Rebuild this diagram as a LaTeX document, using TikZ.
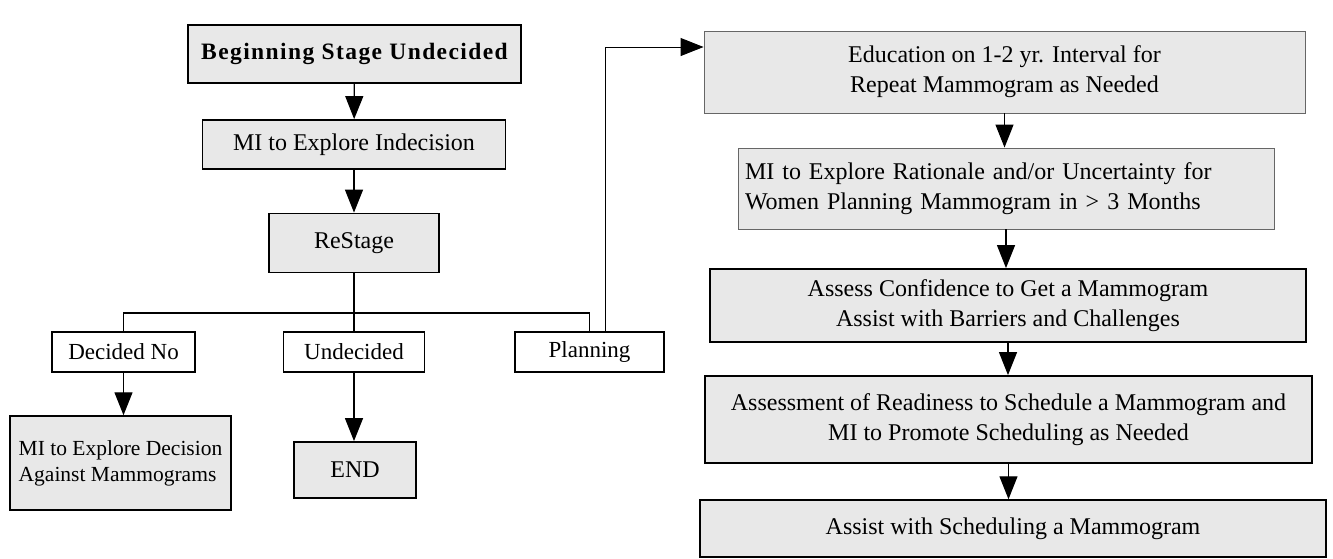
\documentclass[tikz,border=0pt]{standalone}
\usepackage{fontspec}
\setmainfont{Liberation Serif}
\usetikzlibrary{arrows.meta}
\tikzset{
  stagebox/.style={draw, line width=1.8pt, fill=black!9, align=center, inner sep=0pt,
    font=\fontsize{24}{30}\selectfont},
  answerbox/.style={stagebox, fill=white, line width=1.5pt, font=\fontsize{23}{30}\selectfont},
  softbox/.style={stagebox, draw=black!60, line width=0.9pt},
  flow/.style={line width=1.2pt, -{Triangle[length=23pt,width=18pt]}},
  branch/.style={line width=1.5pt}
}
\begin{document}
\begin{tikzpicture}[x=1pt,y=-1pt]
  \useasboundingbox (0,0) rectangle (1333,558);

  % left column
  \node[stagebox, minimum width=333pt, minimum height=58pt,
        font=\fontsize{23.5}{30}\selectfont\bfseries\addfontfeature{LetterSpace=6}] (start) at (354.5,54)
        {Beginning Stage Undecided};
  \node[stagebox, minimum width=303pt, minimum height=49pt] (explore) at (354,144.5) {MI to Explore Indecision};
  \node[stagebox, minimum width=170pt, minimum height=59pt] (restage) at (354,243) {ReStage};

  % answers
  \node[answerbox, minimum width=143pt, minimum height=40pt] (declno) at (123.5,352) {Decided No};
  \node[answerbox, minimum width=141pt, minimum height=40pt] (undec) at (354,352) {Undecided};
  \node[answerbox, minimum width=149pt, minimum height=40pt] (plan) at (589.5,352) {Planning};

  \node[stagebox, minimum width=221pt, minimum height=94pt, line width=1.5pt,
        align=left, font=\fontsize{21.5}{26}\selectfont]
        (decision) at (120.5,463) {MI to Explore Decision\\Against Mammograms};
  \node[stagebox, minimum width=122pt, minimum height=56pt] (endnode) at (355,470) {END};

  % right column
  \node[softbox, minimum width=601pt, minimum height=82pt] (educ) at (1004.5,72)
        {Education on 1-2 yr. Interval for\\Repeat Mammogram as Needed};
  \node[softbox, minimum width=536pt, minimum height=81pt, text width=522pt, inner xsep=7pt, align=left]
        (ratio) at (1006,188.5)
        {MI to Explore Rationale and/or Uncertainty for\\Women Planning Mammogram in > 3 Months};
  \node[stagebox, minimum width=596pt, minimum height=73pt] (confid) at (1008,305.5)
        {Assess Confidence to Get a Mammogram\\Assist with Barriers and Challenges};
  \node[stagebox, minimum width=607pt, minimum height=87pt] (ready) at (1008.5,419.5)
        {Assessment of Readiness to Schedule a Mammogram and\\MI to Promote Scheduling as Needed};
  \node[stagebox, minimum width=626pt, minimum height=57pt, line width=1.5pt] (sched) at (1013,528.5)
        {Assist with Scheduling a Mammogram};

  % connectors
  \coordinate (bar) at (354,313);
  \draw[flow] (start) -- (explore);
  \draw[flow] (explore) -- (restage);
  \draw[branch] (restage.south) -- (bar);
  \draw[branch] (declno.north) |- (bar) -| (plan.north);
  \draw[branch] (undec.north) -- (bar);
  \draw[flow] (declno.south) -- (declno.south |- decision.north);
  \draw[flow] (undec.south) -- (undec.south |- endnode.north);
  \draw[flow, line width=0.9pt] ([xshift=15.5pt]plan.north) |- ([yshift=25pt]educ.west);

  \draw[flow] (educ.south) -- (educ.south |- ratio.north);
  \draw[flow] (ratio.south) -- (ratio.south |- confid.north);
  \draw[flow] (confid.south) -- (confid.south |- ready.north);
  \draw[flow] (ready.south) -- (ready.south |- sched.north);
\end{tikzpicture}
\end{document}
